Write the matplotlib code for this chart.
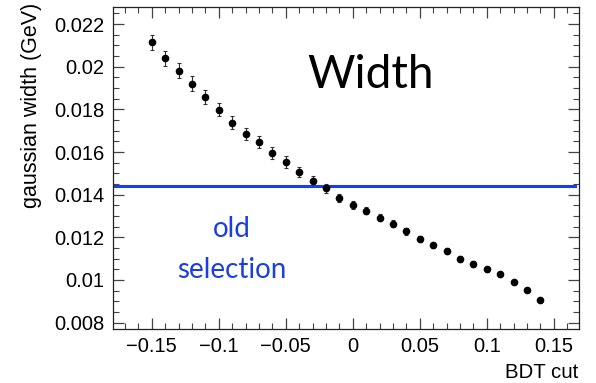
import numpy as np
import matplotlib
matplotlib.use('Agg')
import matplotlib.pyplot as plt
from matplotlib.ticker import MultipleLocator

# BDT cut scan: fitted gaussian width and its fit error
bdt_cut = [-0.15, -0.14, -0.13, -0.12, -0.11, -0.10, -0.09, -0.08, -0.07, -0.06,
           -0.05, -0.04, -0.03, -0.02, -0.01, 0.00, 0.01, 0.02, 0.03, 0.04,
           0.05, 0.06, 0.07, 0.08, 0.09, 0.10, 0.11, 0.12, 0.13, 0.14]
width = [0.02115, 0.02040, 0.01982, 0.01921, 0.01860, 0.01798, 0.01737, 0.01684,
         0.01646, 0.01596, 0.01553, 0.01507, 0.01465, 0.01430, 0.01385, 0.01350,
         0.01325, 0.01292, 0.01264, 0.01228, 0.01193, 0.01162, 0.01136, 0.01098,
         0.01075, 0.01050, 0.01027, 0.00989, 0.00952, 0.00906]
width_err = [0.00036, 0.00036, 0.00035, 0.00034, 0.00033, 0.00031, 0.00030, 0.00029,
             0.00028, 0.00027, 0.00026, 0.00024, 0.00022, 0.00021, 0.00020, 0.00019,
             0.00018, 0.00017, 0.00016, 0.00015, 0.00014, 0.00013, 0.00013, 0.00012,
             0.00012, 0.00011, 0.00011, 0.00010, 0.00010, 0.00009]

old_selection_width = 0.0144
blue = '#1a3ee0'

plt.rcParams['font.family'] = ['Liberation Sans', 'DejaVu Sans']

fig = plt.figure(figsize=(5.96, 3.83), dpi=100)
ax = fig.add_axes([0.1896, 0.141, 0.972 - 0.1896, 0.9817 - 0.141])

ax.errorbar(bdt_cut, width, yerr=width_err, fmt='o', color='black',
            ms=4.5, ecolor='#333333', elinewidth=0.8, capsize=1.6, capthick=0.8)

# horizontal reference at the width of the old selection
ax.plot([-0.179, 0.166], [old_selection_width, old_selection_width],
        color=blue, lw=2.2)

ax.set_xlim(-0.179, 0.169)
ax.set_ylim(0.0077, 0.0228)

ax.xaxis.set_major_locator(MultipleLocator(0.05))
ax.xaxis.set_minor_locator(MultipleLocator(0.01))
ax.yaxis.set_major_locator(MultipleLocator(0.002))
ax.yaxis.set_minor_locator(MultipleLocator(0.0005))
ax.set_xticks([-0.15, -0.1, -0.05, 0, 0.05, 0.1, 0.15])
ax.set_xticklabels(['\u22120.15', '\u22120.1', '\u22120.05', '0', '0.05', '0.1', '0.15'])
ax.set_yticks([0.008, 0.01, 0.012, 0.014, 0.016, 0.018, 0.02, 0.022])
ax.set_yticklabels(['0.008', '0.01', '0.012', '0.014', '0.016', '0.018', '0.02', '0.022'])

ax.tick_params(which='both', direction='in', top=True, right=True,
               color='#444444', labelsize=14.5)
ax.tick_params(which='major', length=8, width=0.9, pad=6)
ax.tick_params(which='minor', length=4, width=0.8)
for s in ax.spines.values():
    s.set_linewidth(0.9)
    s.set_color('#222222')

fig.text(32 / 596, 1 - 3 / 383, 'gaussian width (GeV)', rotation=90,
         ha='center', va='top', fontsize=15.5)
fig.text(578 / 596, 1 - 372 / 383, 'BDT cut', ha='right', va='center', fontsize=14.7)

ax.text(0.013, 0.0196, 'Width', ha='center', va='center', fontsize=33,
        family=['Lato', 'DejaVu Sans'])
ax.text(-0.09, 0.01239, 'old', ha='center', va='center', fontsize=20,
        color=blue, family=['Lato', 'DejaVu Sans'])
ax.text(-0.09, 0.01047, 'selection', ha='center', va='center', fontsize=20,
        color=blue, family=['Lato', 'DejaVu Sans'])

fig.savefig('out.png', dpi=100)
